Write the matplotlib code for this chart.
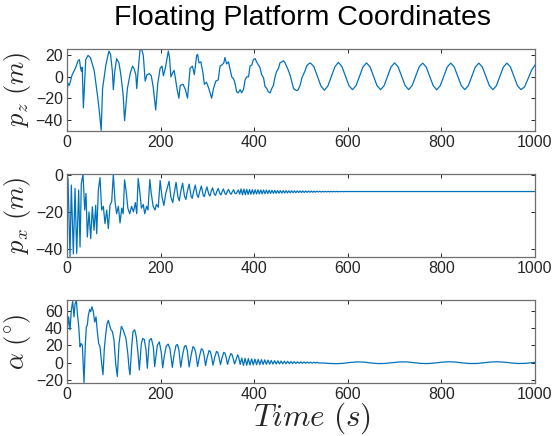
import numpy as np
import matplotlib

matplotlib.use("Agg")
import matplotlib.pyplot as plt

# values, (time s, value)
pz_head = [
    (0, -15), (2, -6), (5, -8), (11, 2), (18, 8), (23.5, 15), (26.5, 16), (29, 8), (31, 5), (32.5, 9),
    (35, -29), (40, 16), (45, 20), (50, 18), (58, 6), (65, -17), (69, -32), (73, -50), (76, -11), (83, 11),
    (89.5, 24), (93, 21), (97, 5), (99, -12), (102, 5), (106, 17), (111, 13), (115, 2), (120, -17), (123, -41),
    (129, -11), (135, 3), (140, 10), (143, 8), (147, 2), (149, -11), (152, 6), (156, 25), (159.5, 26), (163, 20),
    (167, -4), (171, 2), (176, 3), (180, 1), (184, -9), (189.5, -31), (194, -6), (199, 8), (203, 10), (206, 1),
    (210, 8), (216.5, 24), (219, 18), (222, 0), (226, 4), (229, 6), (235, -11), (239, -20), (242, -8), (248, -7),
    (253, -12), (257.5, -20), (263, 8), (268, 10), (272, 2), (277, 20), (279, 21), (282, 13), (286, 14), (290, 5),
    (293.5, -7), (298, -5), (303, -11), (309, -20), (313, -11), (318, -4), (323, -3), (327, 10), (331, 11), (335, 13),
    (337.5, 18), (341, 12), (345, 14), (348, 8), (352, 0), (356, -2), (359, -6), (362.5, -14), (366, -15), (370, -12),
    (373, -15), (377, -12), (380.5, -3), (384, 0), (388, 0), (391, 10), (395, 11), (398, 16), (402, 17), (405, 14),
    (409, 11), (412, 9), (416, 2), (420, -1), (423, -9), (427, -11), (430, -14), (434, -15), (437.5, -11), (441, -8),
    (444.5, 0), (448, 5), (452, 8), (455, 13), (459, 14), (462.5, 15), (466, 13), (470, 9), (473, 6), (477, 1),
    (480, -4), (484, -11), (487, -12), (491, -13), (494, -12), (498, -8), (502, -1), (505, 2), (509, 6), (512, 10),
    (516, 12), (520, 13),
]
# steady heave, sampled every 7.5 s from 527.5 s
pz_tail = [
    9.5, 0.5, -8.5, -12.5, -8.5, 0.5, 9.5, 13.5,
    9.5, 0.5, -8.3, -12, -8.3, 0.5, 9.3, 13,
    9.3, 0.5, -8.3, -12, -8.3, 0.5, 9.3, 13,
    9.3, 0.6, -8.2, -12, -8.2, 0.6, 9.3, 12.8,
    9.2, 0.5, -8.3, -12.2, -8.3, 0.5, 9.2, 12.8,
    9.2, 0.5, -8.3, -12, -8.3, 0.5, 9.2, 12.8,
    9.2, 0.5, -8.3, -12, -8.3, 0.5, 9.2, 12.8,
    9.2, 0.5, -8.3, -12, -9.5, -2, 6, 11,
]

px_head = [
    (0, 0), (2.1, -2), (6.4, -44.2), (9.2, -5.5), (13.5, -42.7), (17.1, -7.3), (20.7, -42.4), (24.9, -8.2),
    (27.8, -39), (30.6, -4.5), (34.2, 0.3), (37.8, -19), (40.6, -10), (43.4, -33.6), (47, -20), (50.6, -34.5),
    (54.1, -17.3), (57.7, -30), (61.3, -16.4), (63.4, -31.8), (67, -8), (70.5, -1.5), (74.1, -19), (77.6, -17),
    (81.2, -26.4), (84.8, -19), (88.3, -29), (91.9, -16.4), (95.4, -14.5), (99, 0.3), (102.6, -14.5), (106, -21),
    (109.7, -17), (113.3, -26), (117, -18), (120, -21), (123, -2.7), (126, -8), (130, -18), (134, -21),
    (138, -17), (142, -20), (146, -15), (149, -21), (152, -2), (155, -8), (159, -18), (163, -16),
    (166, -21), (170, -17), (173, -19), (177, -2.5), (180, -10), (184, -17), (188, -19), (191, -16),
    (195, -17.5), (199, -3), (203, -12), (207, -16.5), (211, -10), (218, -3.5), (222, -12), (226, -15),
    (229, -10), (233, -4), (237, -12), (240, -14), (243, -9), (247, -4.5), (251, -11.5), (254, -13.3),
    (257, -9), (261, -5), (265, -11.5), (267.5, -12.7), (270.5, -9), (274, -5.5), (278, -11), (280.5, -12.2),
    (283.5, -9), (287, -6), (291, -11), (293.5, -11.8), (296, -9), (299, -6.5), (303, -10.5), (305.5, -11.4),
    (308, -9), (311, -7), (315, -10.5), (317.5, -11.1), (320, -9), (323, -7.3), (327, -10.3), (329, -10.8),
    (331.5, -9), (334, -7.6), (338, -10.3), (340, -10.6), (342.5, -9), (345, -7.8), (349, -10.1), (351, -10.4),
    (353.5, -9), (356, -8), (359, -10), (361.5, -10.2), (364, -9), (366, -8.1), (369, -10.4),
]
# surge ripple, sampled every 3 s from 372 s
px_ripple = [
    -7.6, -10.8, -7.7, -10.7, -7.8, -10.6, -7.9, -10.5, -8.0, -10.4,
    -8.05, -10.35, -8.1, -10.3, -8.15, -10.25, -8.2, -10.2, -8.25, -10.1,
    -8.3, -10.05, -8.35, -10.0, -8.4, -9.95, -8.45, -9.9, -8.5, -9.85,
    -8.5, -9.8, -8.55, -9.75, -8.6, -9.7, -8.6, -9.65, -8.65, -9.6,
    -8.65, -9.55, -8.7, -9.55, -8.7, -9.5, -8.7, -9.45, -8.75, -9.4,
    -8.75, -9.4, -8.8, -9.35, -8.8, -9.3, -8.8, -9.3, -8.85, -9.25,
    -8.85, -9.25, -8.85, -9.2, -8.9, -9.2, -8.9, -9.15, -8.9, -9.15,
    -8.95, -9.1, -8.95, -9.1, -8.95, -9.05, -9.0,
]
px_final = -9.0

alpha_head = [
    (0, 34), (3.6, 53), (6.4, 38), (9.2, 61), (12.1, 71), (14.9, 53), (17.1, 68), (19.9, 72), (22.8, 53), (24.9, 43),
    (27.8, 18.5), (29.9, 22), (32.8, 20), (36.3, -23), (39.2, 22), (41.3, 41.6), (43.4, 43.4), (45.6, 55), (48.4, 61.6),
    (50.6, 59), (53.4, 64.7), (56.3, 59), (59.1, 47), (62, 53), (64.8, 36), (67.7, 22), (70.5, 18.5), (74.1, -1),
    (76.9, -14), (79.8, 17), (82.6, 32), (85.5, 45), (88.3, 49), (91.2, 43), (94, 38), (97, 36), (100.4, 26),
    (104, -1), (107.5, -16), (111.1, 22), (116.1, 42), (120, 38), (126, 28), (130, 10), (132.5, -6.5), (134.6, -14),
    (138.2, 18.5), (141, 36), (144.6, 38), (148, 30), (151.7, 11), (154.6, -8.5), (158.8, 22), (161.7, 28), (165, 27),
    (168.8, 15), (171.6, -6.5), (175.9, 26), (180.2, 28), (184.5, 18), (187.3, -4.6), (193, 20), (197.3, 24),
    (201.6, 11), (204.4, -6), (208, 8), (212, 19), (216, 21.5), (220, 16), (225, -5.5), (229, 10), (233, 20),
    (236, 21), (239, 15), (243, -5.3), (247, 9), (251, 19), (254, 19.8), (257, 14), (261, -5), (265, 8), (269, 18.5),
    (272, 17), (275, 12), (279, -4.5), (283, 7), (287, 16), (290, 15), (292.5, 10), (296, -3.5), (299.5, 6),
    (303.5, 14), (306, 13), (308.5, 8), (312, -3), (315.5, 6), (319.5, 13), (322, 12), (324.5, 7), (328, -2.3),
    (331, 5), (335, 12), (337.5, 11), (340, 6), (343, -2), (346, 4), (350, 10.5), (352.5, 9.5), (355, 5),
    (358, -1.5), (361, 3), (364.5, 9), (367, 6), (370, -2),
]
# pitch ripple, sampled every 3.5 s from 373.5 s
alpha_ripple = [
    5.3, -3.2, 5.0, -3.0, 4.7, -2.8, 4.4, -2.6, 4.1, -2.4,
    3.8, -2.2, 3.5, -2.0, 3.2, -1.9, 2.9, -1.8, 2.6, -1.7,
    2.3, -1.6, 2.1, -1.5, 1.9, -1.4, 1.7, -1.3, 1.5, -1.2,
    1.3, -1.1, 1.2, -1.0, 1.0, -0.9, 0.9, -0.8, 0.8, -0.7,
    0.7, -0.6, 0.6, -0.6, 0.5, -0.5, 0.4, -0.5,
]
alpha_tail = [
    (545, -0.3), (560, -0.9), (575, -1.2), (590, -0.8), (605, 0.2), (620, 0.9), (635, 0.6), (650, -0.4),
    (665, -1.1), (680, -0.9), (695, 0), (710, 0.8), (725, 0.9), (740, 0.1), (755, -0.8), (770, -1.1),
    (785, -0.5), (800, 0.5), (815, 1.0), (830, 0.7), (845, -0.3), (860, -1.0), (875, -1.0), (890, -0.2),
    (905, 0.7), (920, 1.0), (935, 0.5), (950, -0.4), (965, -1.0), (980, -0.8), (995, 0.1), (1000, 0.4),
]

x_ticks = [0, 200, 400, 600, 800, 1000]
y_ticks = [[-40, -20, 0, 20], [-40, -20, 0], [-20, 0, 20, 40, 60]]
y_limits = [(-50.4, 26), (-44.4, 0.5), (-23, 72)]
y_labels = [r"$p_z\ (m)$", r"$p_x\ (m)$", r"$\alpha\ (^{\circ})$"]


def join(points, samples=None, start=None, step=None, extra=None):
    t, v = map(list, zip(*points))
    if samples is not None:
        t += list(start + step * np.arange(len(samples)))
        v += list(samples)
    if extra is not None:
        t += [p[0] for p in extra]
        v += [p[1] for p in extra]
    return np.array(t), np.array(v)


series = [
    join(pz_head, pz_tail, 527.5, 7.5),
    join(px_head, px_ripple, 372, 3, [(1000, px_final)]),
    join(alpha_head, alpha_ripple, 373.5, 3.5, alpha_tail),
]

plt.rcParams["mathtext.fontset"] = "cm"
plt.rcParams["font.family"] = "Liberation Sans"

fig = plt.figure(figsize=(5.52, 4.36), dpi=100)
boxes = [
    [0.1214, 0.7002, 0.8478, 0.1874],
    [0.1214, 0.4106, 0.8478, 0.1904],
    [0.1214, 0.1227, 0.8478, 0.1881],
]

for i, (t, v) in enumerate(series):
    ax = fig.add_axes(boxes[i])
    ax.plot(t, v, color="#0072BD", lw=0.9)
    ax.set_xlim(0, 1000)
    ax.set_ylim(*y_limits[i])
    ax.set_xticks(x_ticks)
    ax.set_yticks(y_ticks[i])
    ax.tick_params(direction="in", top=True, right=True, length=3, width=0.7,
                   colors="#262626", labelsize=11.5)
    ax.tick_params(axis="x", pad=3)
    ax.tick_params(axis="y", pad=3)
    for s in ax.spines.values():
        s.set_color("#6e6e6e")
        s.set_linewidth(0.9)
    ax.set_ylabel(y_labels[i], fontsize=19, color="#262626", labelpad=2)

# the shared time label sits under the bottom panel
fig.text(312 / 552, 1 - 418 / 436, r"$Time\ (s)$", ha="center", va="center",
         fontsize=22.5, color="#262626")

fig.text(0.548, 1 - 18 / 436, "Floating Platform Coordinates", ha="center", va="center",
         fontsize=20.5, color="#000000")

fig.savefig("out.png", dpi=100)
